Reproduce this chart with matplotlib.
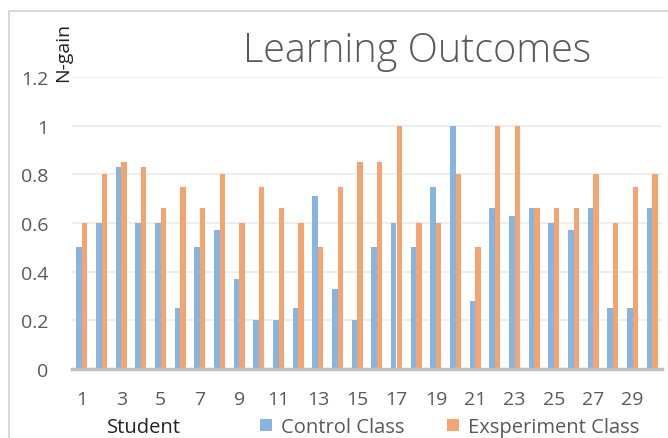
import numpy as np
import matplotlib
matplotlib.use("Agg")
import matplotlib.pyplot as plt
from matplotlib.patches import Rectangle

students = list(range(1, 31))
control = [0.50, 0.60, 0.83, 0.60, 0.60, 0.25, 0.50, 0.57, 0.37, 0.20,
           0.20, 0.25, 0.71, 0.33, 0.20, 0.50, 0.60, 0.50, 0.75, 1.00,
           0.28, 0.66, 0.63, 0.66, 0.60, 0.57, 0.66, 0.25, 0.25, 0.66]
experiment = [0.60, 0.80, 0.85, 0.83, 0.66, 0.75, 0.66, 0.80, 0.60, 0.75,
              0.66, 0.60, 0.50, 0.75, 0.85, 0.85, 1.00, 0.60, 0.60, 0.80,
              0.50, 1.00, 1.00, 0.66, 0.66, 0.66, 0.80, 0.60, 0.75, 0.80]
yticks = [0, 0.2, 0.4, 0.6, 0.8, 1, 1.2]
ytick_labels = ["0", "0.2", "0.4", "0.6", "0.8", "1", "1.2"]

plt.rcParams["font.family"] = ["Open Sans", "DejaVu Sans"]
txt = "#595959"

fig = plt.figure(figsize=(6.68, 4.39), dpi=100)
# chart frame (extends past right/bottom edges as in the reference)
fig.patches.append(Rectangle((9 / 668, -0.1), 1.2, 1 - 12 / 439 + 0.1,
                             transform=fig.transFigure, fill=False,
                             edgecolor="#D9D9D9", lw=1.5))

ax = fig.add_axes([72 / 668, 1 - 370 / 439, 590 / 668, 292 / 439])
x = np.arange(len(students))
w = 0.28
ax.bar(x - w / 2, control, w, color="#86B5E0", label="Control Class", zorder=3)
ax.bar(x + w / 2, experiment, w, color="#F4A470", label="Exsperiment Class", zorder=3)

ax.set_xlim(-0.5, len(students) - 0.5)
ax.set_ylim(0, 1.2)
ax.set_yticks(yticks)
ax.set_yticklabels(ytick_labels)
ax.set_xticks(x[::2])
ax.set_xticklabels([str(s) for s in students[::2]])
ax.tick_params(axis="y", length=0, pad=17, labelsize=14, labelcolor=txt)
ax.tick_params(axis="x", length=0, pad=15, labelsize=14, labelcolor=txt)
ax.grid(axis="y", color="#EBEBEB", lw=1.2, zorder=0)
for s in ["top", "right", "left"]:
    ax.spines[s].set_visible(False)
ax.spines["bottom"].set_color("#BFBFBF")
ax.spines["bottom"].set_linewidth(2.5)
ax.spines["bottom"].set_zorder(4)

fig.text(417 / 668, 1 - 52 / 439, "Learning Outcomes", ha="center", va="center",
         fontsize=28.5, color=txt, fontweight="light")
fig.text(63 / 668, 1 - 52 / 439, "N-gain", rotation=90, ha="center", va="center",
         fontsize=14, color="#222222")
fig.text(144 / 668, 1 - 428 / 439, "Student", ha="center", va="center",
         fontsize=14.5, color="#222222")
fig.legend(loc="center left", bbox_to_anchor=(260 / 668, 1 - 428 / 439), ncol=2,
           frameon=False, fontsize=14.5, labelcolor=txt, handlelength=0.6,
           handleheight=0.6, handletextpad=0.45, columnspacing=2.1,
           borderaxespad=0, borderpad=0)

fig.savefig("out.png", dpi=100)
